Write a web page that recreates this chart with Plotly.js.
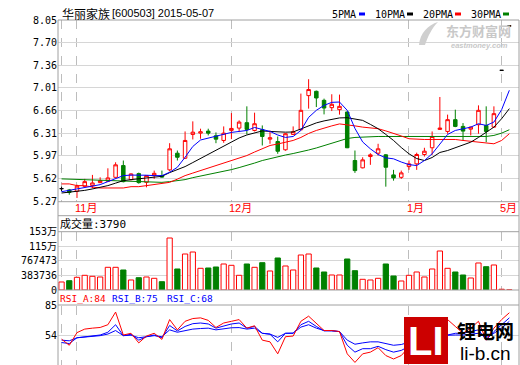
<!DOCTYPE html>
<html><head><meta charset="utf-8">
<script src="https://cdn.plot.ly/plotly-3.0.1.min.js"></script>
<style>html,body{margin:0;padding:0;background:#fff;}#chart{width:520px;height:365px;}</style>
</head><body><div id="chart"></div>
<script>
// ---- data (index = trading day, 0..58) ----
const open  = [5.47,5.45,5.431,5.505,5.516,5.562,5.582,5.643,5.823,5.608, 5.700,5.566,5.669,5.669,5.757,6.012,5.935,6.299,6.319,6.35, 6.279,6.207,6.361,6.396,6.479,6.36,6.371,6.227,6.191,6.064, 6.299,6.371,6.893,6.959,6.821,6.709,6.678,6.642,5.90,5.788, 5.961,6.012,5.987,5.68,5.643,5.807,5.849,5.992,6.095,6.376, 6.345,6.525,6.422,6.38,6.448,6.437,6.411,7.28,7.96];
const high  = [5.50,5.465,5.531,5.619,5.68,5.643,5.781,5.873,5.90,5.704, 5.715,5.677,5.746,5.746,6.165,6.053,6.345,6.499,6.387,6.387, 6.33,6.422,6.626,6.514,6.729,6.632,6.437,6.36,6.268,6.32, 6.422,6.924,7.144,6.97,6.847,6.914,6.909,6.65,6.053,5.95, 6.012,6.156,6.0,5.757,5.746,5.90,6.02,6.095,6.345,6.872, 6.602,6.678,6.473,6.42,6.744,6.729,6.729,7.28,7.96];
const low   = [5.428,5.377,5.327,5.493,5.474,5.554,5.582,5.638,5.566,5.597, 5.546,5.49,5.619,5.638,5.735,5.90,5.923,6.222,6.233,6.284, 6.165,6.171,6.227,6.334,6.299,6.345,6.13,6.156,6.003,6.05, 6.29,6.36,6.694,6.718,6.606,6.657,6.602,6.09,5.711,5.78, 5.834,5.976,5.50,5.592,5.619,5.757,5.757,5.961,5.987,6.37, 6.31,6.41,6.207,6.284,6.31,6.181,6.40,7.28,7.96];
const close = [5.47,5.413,5.508,5.577,5.557,5.592,5.634,5.834,5.577,5.695, 5.562,5.669,5.704,5.646,6.079,5.95,6.207,6.334,6.34,6.319, 6.227,6.319,6.391,6.488,6.376,6.463,6.268,6.248,6.042,6.31, 6.34,6.668,6.986,6.857,6.703,6.76,6.729,6.095,5.746,5.91, 5.987,6.079,5.797,5.634,5.711,5.849,5.992,6.043,6.268,6.396, 6.525,6.422,6.35,6.411,6.668,6.345,6.617,7.28,7.96];
const volume = [210600,244900,334400,387000,360700,342300,597700,597700,526600,263300, 323800,342300,308000,218500,1369100,552900,947800,1000500,571300,579200, 605600,684600,650300,387000,684600,597700,718800,500300,842500,631900, 526600,921500,947800,579200,473900,394900,394900,816200,508200,281700, 263300,308000,684600,368600,237000,387000,473900,342300,552900,1026800, 571300,473900,394900,316000,710900,613500,658200,20000,3790];
const ma5  = [5.423,5.447,5.465,5.485,5.508,5.531,5.577,5.634,5.669,5.677, 5.680,5.675,5.669,5.669,5.720,5.797,5.950,6.115,6.214,6.245, 6.265,6.307,6.330,6.345,6.360,6.406,6.376,6.345,6.291,6.253, 6.268,6.360,6.560,6.668,6.744,6.790,6.795,6.668,6.391,6.184, 6.079,5.992,5.941,5.926,5.877,5.838,5.823,5.900,6.003,6.156, 6.299,6.360,6.387,6.411,6.463,6.437,6.488,6.678,6.975];
const ma10 = [5.403,5.413,5.423,5.443,5.465,5.490,5.516,5.554,5.592,5.608, 5.619,5.631,5.643,5.658,5.715,5.761,5.807,5.869,5.930,5.992, 6.053,6.115,6.176,6.245,6.291,6.322,6.353,6.345,6.334,6.334, 6.337,6.387,6.437,6.476,6.506,6.529,6.552,6.555,6.537,6.514, 6.453,6.387,6.299,6.207,6.099,6.003,5.930,5.900,5.946,6.023, 6.053,6.099,6.138,6.181,6.253,6.330,6.411,6.540,6.694];
const ma20 = [5.542,5.542,5.516,5.516,5.493,5.480,5.480,5.480,5.480,5.500, 5.500,5.516,5.531,5.542,5.566,5.615,5.669,5.708,5.746,5.784, 5.823,5.861,5.900,5.938,5.976,6.030,6.079,6.130,6.153,6.184, 6.207,6.253,6.314,6.360,6.399,6.430,6.460,6.448,6.430,6.411, 6.399,6.387,6.353,6.319,6.276,6.233,6.222,6.222,6.222,6.222, 6.222,6.222,6.207,6.196,6.184,6.165,6.156,6.207,6.310];
const ma30 = [5.619,5.615,5.608,5.603,5.597,5.592,5.588,5.585,5.582,5.577, 5.569,5.566,5.566,5.566,5.577,5.592,5.608,5.638,5.661,5.685, 5.715,5.738,5.761,5.792,5.823,5.861,5.900,5.930,5.961,5.984, 6.007,6.030,6.061,6.092,6.130,6.168,6.207,6.237,6.253,6.261, 6.265,6.268,6.268,6.268,6.268,6.268,6.268,6.268,6.268,6.268, 6.268,6.268,6.268,6.268,6.268,6.268,6.284,6.319,6.371];
const rsiA = [49.7,43.2,56.5,60.2,61.2,61.9,64.8,78.1,54,55.8, 45.7,52.9,55.8,49.4,70.2,59.4,68.4,71.3,72,69.4, 61.9,66.6,68.4,70.2,61.2,63.7,48.6,46.8,34.2,52.2, 52.9,68.4,73.8,66.6,58.7,58.7,57.6,34.2,25.2,34.2, 36,40.7,32.4,28.8,32.4,41.4,55,58,66,64.8, 70.2,63,55.8,61.2,68.4,48.6,61.2,70.2,77.4];
const rsiB = [46.1,45,51.1,52,52.9,54,56.9,64.8,53.3,54.8, 48.6,52.2,54,51.1,64,58.3,63,65.9,66.6,65.6, 61.2,63.7,65.6,66.6,61.2,63,55.8,54.8,46.8,55.8, 55.8,64.8,68.4,63,58.3,58.7,57.6,43.2,36,39.6, 39.6,42.1,38.6,36,37.8,42,48,50,55,56, 54,55.8,55.8,57.6,59.4,48.6,57.6,64.8,72];
const rsiC = [48.6,47.9,51.1,52,52.5,53.3,55,58.7,53.3,53.8, 51.1,52.5,53.3,52.2,59.4,56.9,58.8,60.2,60.8,61.2, 59.4,60.5,61.6,61.8,60.2,61.2,55.8,55,51.5,55.8, 56,62.3,64.8,61.2,58.7,58.2,57.6,48.6,44.3,45.7, 46.8,46.8,45,43.2,44,46.8,49,50.5,53,53.5, 54,54,54,55,55.8,52.2,55.8,61.2,68.4];

const monthIdx    = [2, 22, 45, 57];
const monthLabels = ['11月', '12月', '1月', '5月'];
const gridIdx     = [0, 2, 22, 45, 57];
const priceTicks  = [5.27, 5.62, 5.97, 6.31, 6.66, 7.01, 7.36, 7.70, 8.05];
const volTicks    = [0, 383736, 767473, 1151209, 1534946];
const volTickText = ['0', '383736', '767473', '115万', '153万'];
const rsiTicks    = [23, 54, 85];
const titleName   = '华丽家族';
const titleCode   = '[600503] 2015-05-07';
const maNames     = ['5PMA', '10PMA', '20PMA', '30PMA'];
const volTitle    = '成交量:3790';
const rsiTitles   = ['RSI_A:84', 'RSI_B:75', 'RSI_C:68'];

// ---- helpers ----
const idx = open.map((_, i) => i);
const PX = px => (px - 58) / 461;
const PY = py => (365 - py) / 345;
const RED = '#ff0000', GREEN = '#008000', BLUE = '#0000ff', BLACK = '#000000';

function pick(cond) {
  const r = {x: [], o: [], h: [], l: [], c: []};
  idx.forEach(i => { if (cond(i)) { r.x.push(i); r.o.push(open[i]); r.h.push(high[i]); r.l.push(low[i]); r.c.push(close[i]); } });
  return r;
}
function candle(d, col, fill) {
  return {type: 'candlestick', x: d.x, open: d.o, high: d.h, low: d.l, close: d.c,
    xaxis: 'x', yaxis: 'y', hoverinfo: 'skip', whiskerwidth: 0, line: {width: 1},
    increasing: {line: {color: col, width: 1}, fillcolor: fill},
    decreasing: {line: {color: col, width: 1}, fillcolor: fill}};
}
const up = pick(i => close[i] > open[i]);
const dn = pick(i => close[i] < open[i]);
const flat = pick(i => close[i] === open[i]);

const maLine = (y, c) => ({type: 'scatter', mode: 'lines', x: idx, y: y, xaxis: 'x', yaxis: 'y', line: {color: c, width: 1}, hoverinfo: 'skip'});
const rsiLine = (y, c) => ({type: 'scatter', mode: 'lines', x: idx, y: y, xaxis: 'x', yaxis: 'y3', line: {color: c, width: 1}, hoverinfo: 'skip'});

const traces = [
  candle(up, RED, '#ffffff'),
  candle(dn, GREEN, GREEN),
  candle(flat, BLACK, BLACK),
  maLine(ma30, GREEN), maLine(ma20, RED), maLine(ma10, BLACK), maLine(ma5, BLUE),
  {type: 'bar', x: idx, y: volume, xaxis: 'x', yaxis: 'y2', width: 0.68, hoverinfo: 'skip',
   marker: {color: idx.map(i => close[i] >= open[i] ? '#ffffff' : GREEN),
            line: {color: idx.map(i => close[i] >= open[i] ? RED : GREEN), width: 1}}},
  rsiLine(rsiC, BLUE), rsiLine(rsiB, BLUE), rsiLine(rsiA, RED)
];

const border = '#a0a0a0';
const shapes = [];
[20, 201.7, 215.7, 231.7, 290, 305].forEach(py => shapes.push({type: 'line', xref: 'paper', yref: 'paper', x0: 0, x1: 1, y0: PY(py), y1: PY(py), line: {color: border, width: 1}}));
[0, 1].forEach(x => shapes.push({type: 'line', xref: 'paper', yref: 'paper', x0: x, x1: x, y0: 0, y1: 1, line: {color: border, width: 1}}));
// legend colour marks
const maColors = [BLUE, BLACK, RED, GREEN];
const legX = [331, 374, 422, 470];
const legMarkX = [359, 407, 455, 503];
maColors.forEach((c, k) => shapes.push({type: 'rect', xref: 'paper', yref: 'paper', x0: PX(legMarkX[k]), x1: PX(legMarkX[k] + 6), y0: PY(15.5), y1: PY(12.5), fillcolor: c, line: {width: 0}}));
// watermark swoosh
const p = (x, y) => PX(x).toFixed(4) + ',' + PY(y).toFixed(4);
shapes.push({type: 'path', xref: 'paper', yref: 'paper', path: 'M' + p(419, 45) + ' C' + p(420, 33) + ' ' + p(428, 25) + ' ' + p(438, 22) + ' C' + p(432, 28) + ' ' + p(428, 36) + ' ' + p(425, 45) + ' Z', fillcolor: '#cfcfcf', line: {width: 0}});
// logo box
shapes.push({type: 'rect', xref: 'paper', yref: 'paper', x0: PX(404), x1: PX(448), y0: PY(364), y1: PY(317), fillcolor: '#cc0000', line: {width: 0}});

const mono = 'DejaVu Sans Mono, Noto Sans CJK SC, monospace';
const cjk = 'Noto Sans CJK SC, sans-serif';
const ann = [];
const A = (o) => ann.push(Object.assign({xref: 'paper', yref: 'paper', showarrow: false, yanchor: 'middle', borderpad: 0}, o));
A({x: PX(61), y: PY(13), xanchor: 'left', text: titleName, font: {family: cjk, size: 12, color: BLACK}});
A({x: PX(111), y: PY(13), xanchor: 'left', text: titleCode, font: {family: 'Liberation Sans, sans-serif', size: 11, color: BLACK}});
maNames.forEach((t, k) => A({x: PX(legX[k]), y: PY(14), xanchor: 'left', text: t, font: {family: mono, size: 10, color: BLACK}}));
monthIdx.forEach((m, k) => A({xref: 'x', x: m, xshift: -3, y: PY(207.5), xanchor: 'left', text: monthLabels[k], font: {family: 'Liberation Sans, Noto Sans CJK SC, sans-serif', size: 11, color: RED}}));
A({x: PX(59), y: PY(224), xanchor: 'left', text: volTitle, font: {family: mono, size: 11, color: BLACK}});
const rsiX = [59, 111, 166], rsiCol = [RED, BLUE, BLUE];
rsiTitles.forEach((t, k) => A({x: PX(rsiX[k]), y: PY(298), xanchor: 'left', text: t, font: {family: mono, size: 9.5, color: rsiCol[k]}}));
// watermark text
A({x: PX(478), y: PY(30.5), xanchor: 'center', text: '<b>东方财富网</b>', font: {family: cjk, size: 13, color: '#c8c8c8'}});
A({x: PX(479), y: PY(45.5), xanchor: 'center', text: '<b><i>eastmoney.com</i></b>', font: {family: 'Liberation Sans, sans-serif', size: 7.5, color: '#c8c8c8'}});
// site logo text
A({x: PX(426), y: PY(340.5), xanchor: 'center', text: '<b>LI</b>', font: {family: 'Liberation Sans, sans-serif', size: 40, color: '#ffffff'}});
A({x: PX(485), y: PY(330), xanchor: 'center', text: '<b>锂电网</b>', font: {family: cjk, size: 19, color: BLACK}});
A({x: PX(485), y: PY(353), xanchor: 'center', text: 'li-b.cn', font: {family: 'Liberation Sans, sans-serif', size: 19, color: BLACK}});

const yTickFont = {family: mono, size: 10, color: BLACK};
const layout = {
  width: 520, height: 365, margin: {l: 58, r: 1, t: 20, b: 0, pad: 0},
  paper_bgcolor: '#ffffff', plot_bgcolor: '#ffffff', showlegend: false,
  boxgap: 0.35, barmode: 'overlay', hovermode: false,
  xaxis: {range: [-0.46, 59.25], rangeslider: {visible: false}, tickvals: gridIdx, showticklabels: false, ticks: '',
          showgrid: true, gridcolor: '#bdbdbd', griddash: 'dash', gridwidth: 1, zeroline: false, showline: false, anchor: 'y', fixedrange: true},
  yaxis: {domain: [PY(201.7), 1], range: [5.27, 8.05], tickvals: priceTicks, ticktext: priceTicks.map(v => v.toFixed(2)),
          tickfont: yTickFont, ticks: '', showgrid: true, gridcolor: '#d6d6d6', zeroline: false, showline: false, anchor: 'x', fixedrange: true},
  yaxis2: {domain: [PY(290), PY(231.7)], range: [0, 1534946], tickvals: volTicks, ticktext: volTickText,
          tickfont: yTickFont, ticks: '', showgrid: true, gridcolor: '#d6d6d6', zeroline: false, showline: false, anchor: 'x', fixedrange: true},
  yaxis3: {domain: [PY(364.5), PY(305.5)], range: [23, 85], tickvals: rsiTicks, ticktext: rsiTicks.map(String),
          tickfont: yTickFont, ticks: '', showgrid: true, gridcolor: '#d6d6d6', zeroline: false, showline: false, anchor: 'x', fixedrange: true},
  shapes: shapes, annotations: ann
};
Plotly.newPlot('chart', traces, layout, {staticPlot: true, displayModeBar: false});
</script>
</body></html>
